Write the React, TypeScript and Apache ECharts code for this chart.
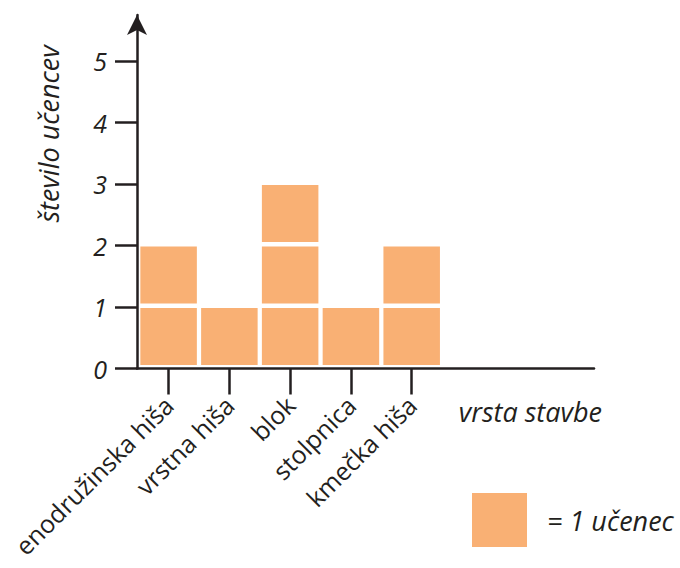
import React, { useEffect, useRef } from "react";
import * as echarts from "echarts";

const categories = ["enodružinska hiša", "vrstna hiša", "blok", "stolpnica", "kmečka hiša"];
const counts = [2, 1, 3, 1, 2];
const yTicks = [0, 1, 2, 3, 4, 5];
const categoryPositions = [0, 1, 2, 3, 4];

const xAxisName = "vrsta stavbe";
const yAxisName = "število učencev";
const legendLabel = "= 1 učenec";

const ORANGE = "#f9b074";
const INK = "#231f20";
const FONT = "'Open Sans', 'Noto Sans', sans-serif";

export default function App() {
  const ref = useRef<HTMLDivElement>(null);

  useEffect(() => {
    if (!ref.current) return;
    const chart = echarts.init(ref.current, null, { renderer: "svg" });

    const squares: number[][] = [];
    counts.forEach((c, i) => {
      for (let k = 0; k < c; k++) squares.push([i, k]);
    });

    const option: any = {
      animation: false,
      backgroundColor: "#ffffff",
      grid: { left: 137, right: 86, top: 15, bottom: 199.5 },
      xAxis: {
        type: "value",
        min: -0.52,
        max: 7,
        splitLine: { show: false },
        axisLine: { show: true, onZero: false, lineStyle: { color: INK, width: 2.5 } },
        axisTick: {
          show: true,
          customValues: categoryPositions,
          length: 26,
          lineStyle: { color: INK, width: 2.5 },
        },
        axisLabel: {
          customValues: categoryPositions,
          formatter: (v: number) => categories[Math.round(v)] ?? "",
          rotate: 45,
          margin: 32,
          fontFamily: FONT,
          fontSize: 25,
          color: INK,
        },
        name: xAxisName,
        nameLocation: "end",
        nameGap: 8,
        nameTextStyle: {
          align: "right",
          verticalAlign: "top",
          padding: [29, 0, 0, 0],
          fontFamily: FONT,
          fontStyle: "italic",
          fontSize: 27,
          color: INK,
        },
      },
      yAxis: {
        type: "value",
        min: 0,
        max: 5.75,
        splitLine: { show: false },
        axisLine: {
          show: true,
          onZero: false,
          symbol: ["none", "arrow"],
          symbolSize: [15, 20],
          lineStyle: { color: INK, width: 2.5 },
        },
        axisTick: {
          show: true,
          customValues: yTicks,
          length: 22,
          lineStyle: { color: INK, width: 2.5 },
        },
        axisLabel: {
          customValues: yTicks,
          margin: 30,
          fontFamily: FONT,
          fontStyle: "italic",
          fontSize: 25,
          color: INK,
        },
      },
      legend: {
        left: 472,
        top: 493,
        padding: 0,
        icon: "rect",
        itemWidth: 55,
        itemHeight: 54,
        data: [legendLabel],
        textStyle: {
          fontFamily: FONT,
          fontStyle: "italic",
          fontSize: 27,
          color: INK,
          padding: [0, 0, 0, 15],
        },
        selectedMode: false,
      },
      graphic: [
        {
          type: "text",
          x: 48,
          y: 134,
          rotation: Math.PI / 2,
          style: {
            text: yAxisName,
            fontFamily: FONT,
            fontStyle: "italic",
            fontSize: 27,
            fill: INK,
            textAlign: "center",
            textVerticalAlign: "middle",
          },
        },
      ],
      series: [
        {
          name: legendLabel,
          type: "custom",
          itemStyle: { color: ORANGE },
          encode: { x: 0, y: 1 },
          data: squares,
          renderItem: (params: any, api: any) => {
            const i = api.value(0);
            const k = api.value(1);
            const a = api.coord([i - 0.465, k]);
            const b = api.coord([i + 0.465, k + 1]);
            return {
              type: "rect",
              shape: {
                x: a[0],
                y: b[1] + 1,
                width: b[0] - a[0],
                height: a[1] - b[1] - 4.5,
              },
              style: { fill: ORANGE },
            };
          },
        },
      ],
    };

    chart.setOption(option);
    return () => chart.dispose();
  }, []);

  return (
    <div
      ref={ref}
      style={{ position: "absolute", left: 0, top: 0, width: 680, height: 568 }}
    />
  );
}
